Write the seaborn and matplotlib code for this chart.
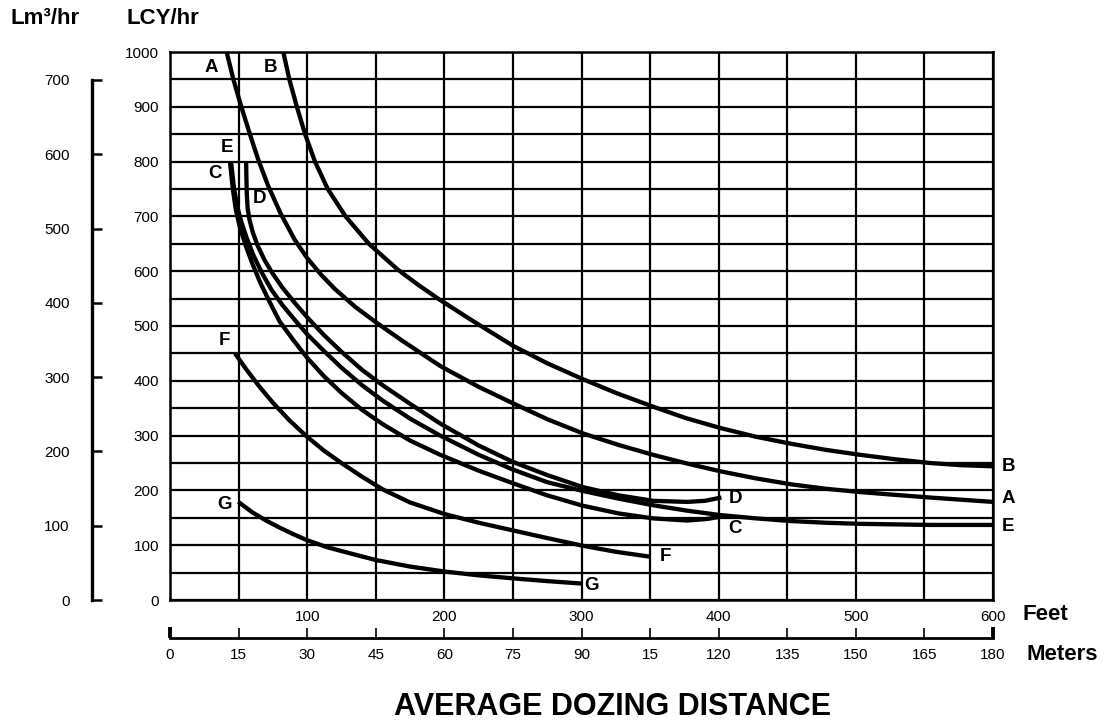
import numpy as np
import pandas as pd
import matplotlib
matplotlib.use("Agg")
import matplotlib.pyplot as plt
import seaborn as sns

# ---------------- data (feet vs LCY/hr) ----------------
A_ft = [41.3, 46, 51.5, 57.5, 64, 71.5, 80.5, 91, 100, 110, 120, 135, 150, 170, 197, 225, 250, 275,
        301, 327, 352, 377, 401, 427, 453, 478, 503, 528, 554, 577, 600]
A_lcy = [1000, 952, 904, 856, 806, 756, 706, 657, 624, 594, 568, 535, 507, 472, 427, 389, 359, 330,
         304, 283, 265, 249, 235, 222, 211, 203, 197, 192, 187, 183, 179]

B_ft = [82.6, 87, 92.5, 98.5, 105.7, 115, 128, 145, 166, 181, 196, 219, 250, 275, 301, 326, 352,
        376, 401, 427, 453, 478, 503, 528, 554, 577, 600]
B_lcy = [1000, 950, 900, 850, 800, 750, 700, 650, 603, 575, 549, 512, 464, 432, 403, 377, 353,
         332, 314, 298, 285, 274, 265, 257, 250, 246, 244]

C_ft = [43.7, 45.8, 48, 51, 55, 60, 66, 73, 80, 90, 100, 112, 125, 140, 155, 175, 197, 225, 250,
        275, 301, 327, 352, 377, 392, 401]
C_lcy = [800, 750, 712, 680, 648, 614, 578, 542, 508, 474, 442, 409, 378, 347, 321, 291, 265, 236,
         213, 191, 172, 158, 149, 145, 148, 152]

D_ft = [55.5, 55.7, 56, 56.6, 58, 60.5, 64, 69, 75, 82, 91, 100, 112, 125, 140, 155, 175, 197,
        225, 250, 275, 301, 327, 352, 377, 390, 402]
D_lcy = [800, 770, 740, 715, 693, 670, 646, 620, 595, 570, 542, 516, 484, 453, 420, 392, 358, 322,
         282, 252, 228, 206, 191, 181, 179, 181, 187]

E_ft = [44.5, 46.5, 49, 52, 56, 61, 67, 74, 82, 92, 100, 112, 125, 140, 155, 175, 197, 225, 250,
        275, 301, 327, 352, 377, 401, 427, 453, 478, 503, 554, 600]
E_lcy = [800, 755, 718, 690, 660, 628, 597, 566, 538, 508, 485, 455, 424, 392, 364, 331, 300, 265,
         238, 215, 199, 185, 173, 163, 155, 149, 144, 141, 139, 137, 137]

F_ft = [47.4, 55, 65, 75, 87, 99, 112, 125, 140, 155, 175, 200, 225, 250, 275, 301, 325, 350]
F_lcy = [450, 423, 390, 360, 328, 300, 273, 250, 225, 202, 178, 157, 141, 127, 113, 99, 88, 79]

G_ft = [49.8, 60, 70, 80, 90, 100, 115, 130, 150, 175, 200, 225, 250, 275, 300]
G_lcy = [179, 160, 145, 132, 120, 109, 96, 86, 73, 61, 52, 45, 39.5, 34.5, 30]

curve_data = [(A_ft, A_lcy), (B_ft, B_lcy), (C_ft, C_lcy), (D_ft, D_lcy),
              (E_ft, E_lcy), (F_ft, F_lcy), (G_ft, G_lcy)]

feet_ticks = [100, 200, 300, 400, 500, 600]
lcy_ticks = [0, 100, 200, 300, 400, 500, 600, 700, 800, 900, 1000]
meter_ticks = [15, 30, 45, 60, 75, 90, 105, 120, 135, 150, 165]
meter_labels = ["15", "30", "45", "60", "75", "90", "15", "120", "135", "150", "165"]
m3_ticks = [0, 100, 200, 300, 400, 500, 600, 700]

# ---------------- style ----------------
sns.set_theme(style="white")
plt.rcParams["font.family"] = ["Liberation Sans", "DejaVu Sans"]
plt.rcParams["text.color"] = "black"
plt.rcParams["xtick.color"] = "black"
plt.rcParams["ytick.color"] = "black"
plt.rcParams["axes.edgecolor"] = "black"

W, H = 1108, 722
fig = plt.figure(figsize=(W / 100, H / 100), dpi=100)


def fx(px):
    return px / W


def fy(py):
    return 1 - py / H


# ---------------- main axes ----------------
ax = fig.add_axes([fx(170), fy(600), fx(993) - fx(170), fy(52) - fy(600)])
for xs, ys in curve_data:
    df = pd.DataFrame({"ft": xs, "lcy": ys})
    sns.lineplot(data=df, x="ft", y="lcy", ax=ax, color="black", lw=3.1,
                 sort=False, estimator=None, solid_capstyle="butt",
                 solid_joinstyle="round", zorder=3)

ax.set_xlim(0, 600)
ax.set_ylim(0, 1000)
ax.set_xticks(feet_ticks, labels=[str(t) for t in feet_ticks])
ax.set_xticks(np.arange(50, 600, 100), minor=True)
ax.set_yticks(lcy_ticks, labels=[str(t) for t in lcy_ticks])
ax.set_yticks(np.arange(50, 1000, 100), minor=True)
ax.grid(which="both", color="black", lw=1.6)
ax.tick_params(which="both", length=0, labelsize=11, colors="black")
ax.tick_params(axis="x", pad=7.5)
ax.tick_params(axis="y", pad=8)
for s in ax.spines.values():
    s.set_linewidth(1.8)
    s.set_color("black")
ax.set_xlabel("")
ax.set_ylabel("")

# curve letters
lab_kw = dict(fontsize=13.5, fontweight="bold", ha="center", va="center")
ax.text(29.9, 972, "A", **lab_kw)
ax.text(73.6, 972, "B", **lab_kw)
ax.text(41.6, 826, "E", **lab_kw)
ax.text(32.8, 779, "C", **lab_kw)
ax.text(65.6, 733, "D", **lab_kw)
ax.text(39.4, 474, "F", **lab_kw)
ax.text(39.4, 175, "G", **lab_kw)
ax.text(611, 244, "B", clip_on=False, **lab_kw)
ax.text(611, 186, "A", clip_on=False, **lab_kw)
ax.text(611, 135, "E", clip_on=False, **lab_kw)
ax.text(412, 186, "D", **lab_kw)
ax.text(412, 131, "C", **lab_kw)
ax.text(361, 80, "F", **lab_kw)
ax.text(307.6, 27, "G", **lab_kw)

# ---------------- meters axis ----------------
axm = fig.add_axes([fx(170), fy(638), fx(993) - fx(170), 0.001])
axm.patch.set_visible(False)
axm.set_xlim(0, 180)
axm.set_yticks([])
for s in ["top", "left", "right"]:
    axm.spines[s].set_visible(False)
axm.spines["bottom"].set_linewidth(2.0)
axm.spines["bottom"].set_color("black")
axm.set_xticks(meter_ticks, labels=meter_labels)
axm.set_xticks([0, 180], labels=["0", "180"], minor=True)
axm.tick_params(which="major", bottom=True, direction="in", length=7, width=1.2, pad=7,
                labelsize=11)
axm.tick_params(which="minor", bottom=True, direction="in", length=8, width=2.8, pad=7,
                labelsize=11)

# ---------------- Lm3/hr axis ----------------
axl = fig.add_axes([fx(92), fy(600), 0.001, fy(52) - fy(600)])
axl.patch.set_visible(False)
axl.set_ylim(0, 548 / 0.7429)
axl.set_xticks([])
for s in ["top", "bottom", "right"]:
    axl.spines[s].set_visible(False)
axl.spines["left"].set_bounds(0, 700)
axl.spines["left"].set_linewidth(2.4)
axl.spines["left"].set_color("black")
axl.set_yticks(m3_ticks, labels=[str(t) for t in m3_ticks])
axl.tick_params(axis="y", left=True, direction="in", length=7, width=1.8, pad=16,
                labelsize=11)

# ---------------- header / axis texts ----------------
fig.text(fx(45), fy(18), "Lm³/hr", fontsize=16, fontweight="bold", ha="center", va="center")
fig.text(fx(163), fy(18), "LCY/hr", fontsize=16, fontweight="bold", ha="center", va="center")
fig.text(fx(1022), fy(615), "Feet", fontsize=16, fontweight="bold", ha="left", va="center")
fig.text(fx(1026), fy(655), "Meters", fontsize=16, fontweight="bold", ha="left", va="center")
fig.text(fx(613), fy(707), "AVERAGE DOZING DISTANCE", fontsize=22, fontweight="bold",
         ha="center", va="center")

fig.savefig("out.png", dpi=100)
